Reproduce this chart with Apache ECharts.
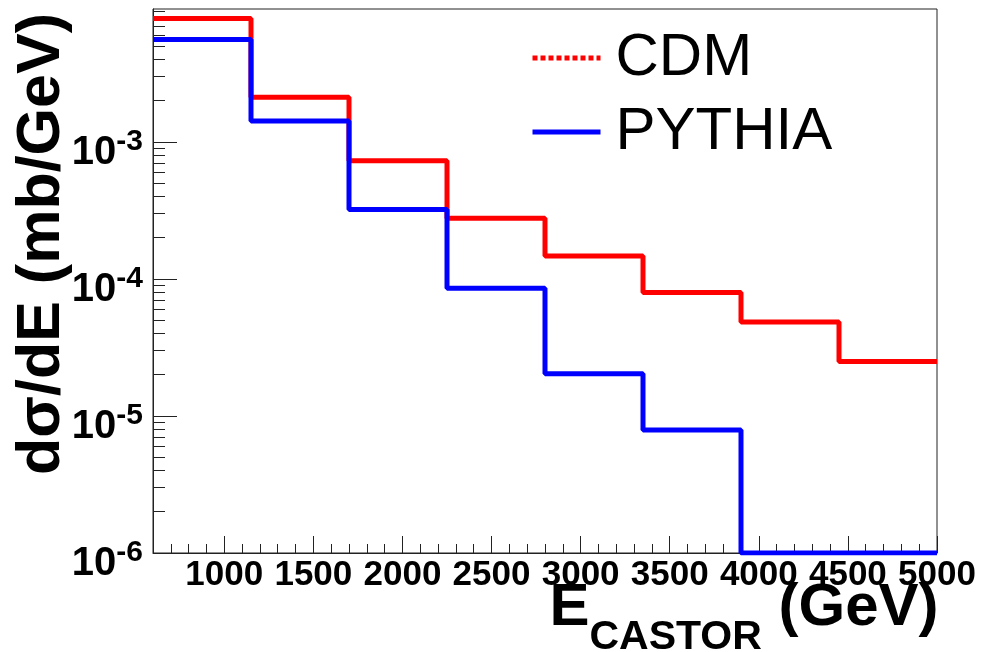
<!DOCTYPE html>
<html>
<head>
<meta charset="utf-8">
<script src="https://cdn.jsdelivr.net/npm/echarts@6/dist/echarts.min.js"></script>
<style>
  html, body { margin: 0; padding: 0; background: #fff; }
  #chart { width: 999px; height: 652px; }
</style>
</head>
<body>
<div id="chart"></div>
<script>
// histogram bin edges (GeV)
var binEdges = [600, 1150, 1700, 2250, 2800, 3350, 3900, 4450, 5000];
// d sigma / dE per bin (mb/GeV)
var cdmValues = [7.92e-3, 2.11e-3, 7.27e-4, 2.77e-4, 1.47e-4, 7.96e-5, 4.85e-5, 2.49e-5];
var pythiaValues = [5.57e-3, 1.42e-3, 3.21e-4, 8.54e-5, 2.03e-5, 7.88e-6, 1e-6, 1e-6];

var xTickValues = [1000, 1500, 2000, 2500, 3000, 3500, 4000, 4500, 5000];
var yTickValues = [1e-6, 1e-5, 1e-4, 1e-3];
var yMin = 1e-6, yMax = 9.3e-3;

var font = '"Liberation Sans", Arial, Helvetica, sans-serif';
var axisColor = '#222';

// step points: one per bin edge, last bin repeated at the right edge
function stepData(vals) {
  var pts = [];
  for (var i = 0; i < vals.length; i++) pts.push([binEdges[i], vals[i]]);
  pts.push([binEdges[binEdges.length - 1], vals[vals.length - 1]]);
  return pts;
}

// minor log ticks 2..9 x 10^n
var yMinorTicks = [];
for (var e = -6; e <= -3; e++) {
  for (var m = 2; m <= 9; m++) yMinorTicks.push(+(m * Math.pow(10, e)).toPrecision(3));
}

var chart = echarts.init(document.getElementById('chart'), null, { renderer: 'canvas' });

var option = {
  animation: false,
  backgroundColor: '#fff',
  grid: {
    left: 153, right: 62, top: 9, bottom: 99,
    containLabel: false,
    outerBoundsMode: 'none',
    show: true, borderColor: axisColor, borderWidth: 1
  },
  legend: {
    orient: 'vertical',
    left: 525, top: 23,
    itemWidth: 68, itemHeight: 14, itemGap: 14,
    textStyle: { fontFamily: font, fontSize: 60, lineHeight: 60, color: '#000', padding: [0, 0, 0, 10] },
    data: [
      { name: 'CDM', lineStyle: { color: '#ff0000', width: 5, type: [5, 3] }, itemStyle: { opacity: 0 } },
      { name: 'PYTHIA', lineStyle: { color: '#0000ff', width: 5 }, itemStyle: { opacity: 0 } }
    ]
  },
  xAxis: [{
    type: 'value',
    min: binEdges[0], max: binEdges[binEdges.length - 1],
    position: 'bottom',
    splitLine: { show: false },
    axisLine: { show: true, lineStyle: { color: axisColor, width: 1 } },
    axisTick: { show: true, inside: true, length: 17, customValues: xTickValues, lineStyle: { color: axisColor } },
    axisLabel: {
      customValues: xTickValues, margin: 5,
      formatter: function (v) { return String(v); },
      fontFamily: font, fontSize: 35, lineHeight: 35, fontWeight: 'bold', color: '#000',
      hideOverlap: false
    },
    name: '{e|E}{s|CASTOR}{g| (GeV)}',
    nameLocation: 'middle', nameGap: 5, nameMoveOverlap: false,
    nameTextStyle: {
      verticalAlign: 'top', padding: [0, 0, 0, 398],
      rich: {
        e: { fontFamily: font, fontSize: 60, fontWeight: 'bold', lineHeight: 100, color: '#000' },
        s: { fontFamily: font, fontSize: 41, fontWeight: 'bold', lineHeight: 47, verticalAlign: 'bottom', color: '#000' },
        g: { fontFamily: font, fontSize: 60, fontWeight: 'bold', lineHeight: 100, color: '#000' }
      }
    }
  }, {
    // minor ticks every 100 GeV
    type: 'value',
    min: binEdges[0], max: binEdges[binEdges.length - 1], interval: 100,
    position: 'bottom',
    splitLine: { show: false },
    axisLine: { show: false },
    axisTick: { show: true, inside: true, length: 9, lineStyle: { color: axisColor } },
    axisLabel: { show: false }
  }],
  yAxis: [{
    type: 'log', logBase: 10,
    min: yMin, max: yMax,
    splitLine: { show: false },
    axisLine: { show: true, lineStyle: { color: axisColor, width: 1 } },
    axisTick: { show: true, inside: true, length: 24, customValues: yTickValues, lineStyle: { color: axisColor } },
    axisLabel: {
      customValues: yTickValues, margin: 10,
      formatter: function (v) {
        return '{b|10}{s|' + Math.round(Math.log10(v)) + '}';
      },
      rich: {
        b: { fontFamily: font, fontSize: 40, fontWeight: 'bold', lineHeight: 40, verticalAlign: 'bottom', color: '#000' },
        s: { fontFamily: font, fontSize: 30, fontWeight: 'bold', lineHeight: 62, color: '#000' }
      }
    },
    name: 'dσ/dE (mb/GeV)',
    nameLocation: 'middle', nameRotate: 90, nameGap: 80, nameMoveOverlap: false,
    nameTextStyle: {
      fontFamily: font, fontSize: 61, fontWeight: 'bold', lineHeight: 61, color: '#000',
      padding: [0, 0, 0, 74]
    }
  }, {
    // minor log ticks
    type: 'log', logBase: 10,
    min: yMin, max: yMax,
    position: 'left',
    splitLine: { show: false },
    axisLine: { show: false },
    axisTick: { show: true, inside: true, length: 12, customValues: yMinorTicks, lineStyle: { color: axisColor } },
    axisLabel: { show: false }
  }],
  series: [{
    name: 'CDM',
    type: 'line', step: 'end',
    xAxisIndex: 0, yAxisIndex: 0,
    symbol: 'none',
    lineStyle: { color: '#ff0000', width: 5 },
    itemStyle: { color: '#ff0000' },
    data: stepData(cdmValues)
  }, {
    name: 'PYTHIA',
    type: 'line', step: 'end',
    xAxisIndex: 0, yAxisIndex: 0,
    symbol: 'none',
    lineStyle: { color: '#0000ff', width: 5 },
    itemStyle: { color: '#0000ff' },
    data: stepData(pythiaValues)
  }]
};

chart.setOption(option);
</script>
</body>
</html>
